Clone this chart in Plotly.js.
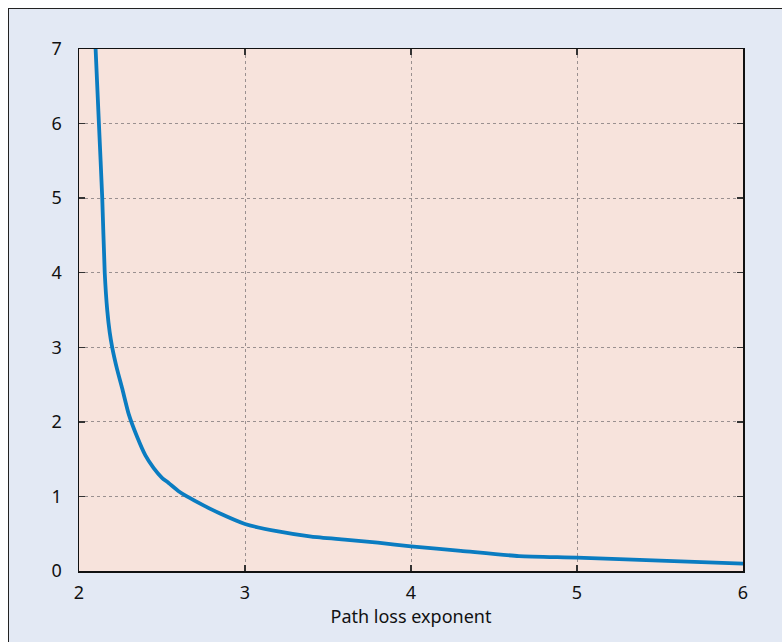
<!DOCTYPE html>
<html>
<head>
<meta charset="utf-8">
<script src="https://cdn.plot.ly/plotly-3.0.1.min.js"></script>
<style>
html,body{margin:0;padding:0;background:#fff;width:782px;height:642px;overflow:hidden;}
#wrap{position:absolute;left:8px;top:8px;width:774px;height:634px;border-top:1px solid #222;border-left:1px solid #222;background:#e3e9f4;}
#chart{width:774px;height:634px;}
</style>
</head>
<body>
<div id="wrap"><div id="chart"></div></div>
<script>
const pathLossExponent = [2.10, 2.12, 2.14, 2.155, 2.17, 2.185, 2.20, 2.23, 2.26, 2.30, 2.35, 2.40, 2.45, 2.50, 2.54, 2.60, 2.65, 2.75, 2.85, 3.0, 3.2, 3.4, 3.6, 3.8, 4.0, 4.3, 4.65, 5.0, 5.5, 6.0];
const values = [7.0, 6.0, 5.0, 4.0, 3.5, 3.2, 3.0, 2.7, 2.45, 2.1, 1.8, 1.55, 1.38, 1.25, 1.18, 1.07, 1.0, 0.88, 0.77, 0.63, 0.53, 0.46, 0.42, 0.38, 0.33, 0.27, 0.2, 0.18, 0.14, 0.1];
const xTicks = [2, 3, 4, 5, 6];
const yTicks = [0, 1, 2, 3, 4, 5, 6, 7];
const xTitle = "Path loss exponent";

const fontFam = 'Noto Sans, Open Sans, sans-serif';
const trace = {
  x: pathLossExponent, y: values, type: 'scatter', mode: 'lines',
  line: {color: '#0a7cc1', width: 3.8, shape: 'spline', smoothing: 0.6},
  hoverinfo: 'skip'
};
const axisCommon = {
  showline: true, linecolor: '#111', linewidth: 1.5, mirror: 'ticks',
  ticks: 'inside', ticklen: 6, tickcolor: '#333', tickwidth: 1.5,
  showgrid: true, gridcolor: '#9a9090', gridwidth: 1, griddash: 'dot',
  zeroline: false, tickfont: {family: fontFam, size: 18, color: '#111'}
};
const layout = {
  width: 774, height: 634,
  margin: {l: 70, r: 40, t: 40, b: 72},
  paper_bgcolor: '#e3e9f4', plot_bgcolor: '#f7e3dc',
  showlegend: false,
  xaxis: Object.assign({}, axisCommon, {
    range: [2, 6], tickvals: xTicks, ticktext: xTicks.map(String), ticklabelstandoff: 5,
    title: {text: xTitle, font: {family: fontFam, size: 18, color: '#111'}, standoff: 0}
  }),
  yaxis: Object.assign({}, axisCommon, {
    range: [0, 7], tickvals: yTicks, ticktext: yTicks.map(String), ticklabelstandoff: 12
  })
};
Plotly.newPlot('chart', [trace], layout, {displayModeBar: false, staticPlot: true});
</script>
</body>
</html>
